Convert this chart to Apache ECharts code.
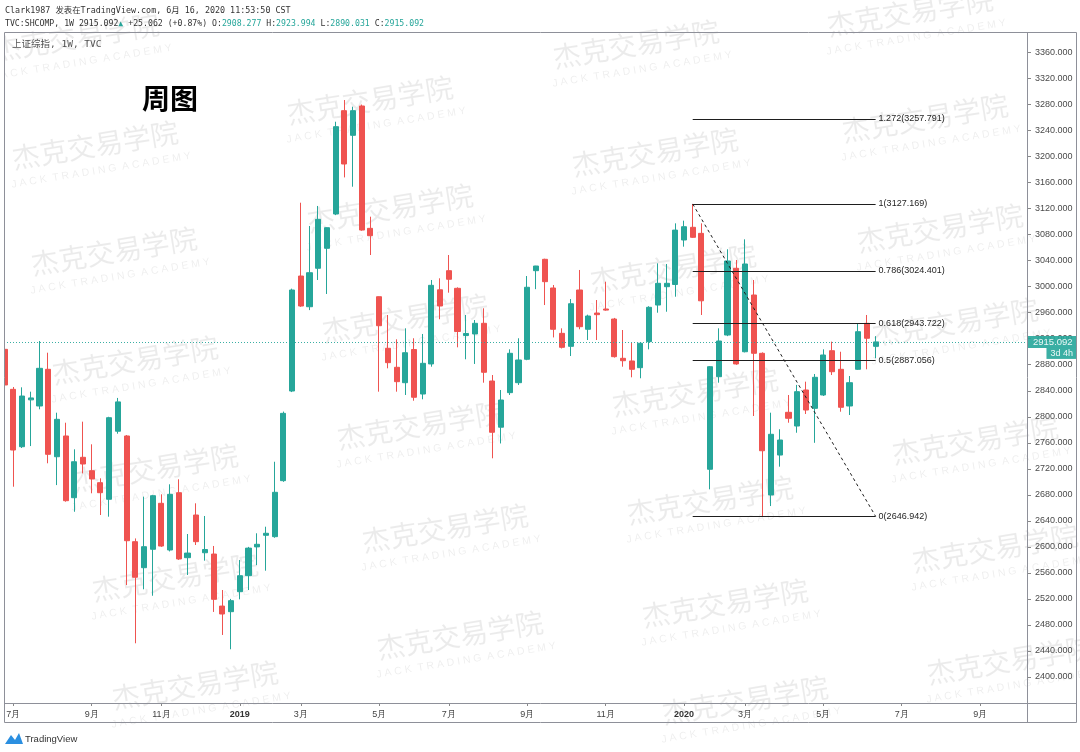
<!DOCTYPE html>
<html><head><meta charset="utf-8">
<script src="https://cdn.jsdelivr.net/npm/echarts@6/dist/echarts.min.js"></script>
<style>html,body{margin:0;padding:0;background:#fff;}#c{width:1080px;height:752px;}</style>
</head><body><div id="c"></div>
<script>
// Weekly candles (SSE Composite), index 0 = week of 2018-06-25 ... index 100 = week of 2020-06-15
const opens = [2903.7,2842.2,2754,2826,2816.6,2873,2738.6,2770.5,2675.6,2737.7,
2717.1,2698.7,2673.2,2777.8,2770.5,2608,2568,2596.3,2667,2595.2,
2683.3,2583.4,2649,2591,2589,2509,2500.4,2531.1,2555.7,2600,
2617.8,2615.7,2701.8,2839.6,3016.4,2969.2,3028.3,3059,3111.7,3270.6,
3232.7,3277.8,3089.7,2984.6,2905.3,2876.1,2852.4,2903.4,2835,2881.2,
2995.2,3024.6,2997.5,2925,2927.3,2943.7,2855,2784,2837.1,2852.4,
2888.4,3024.6,3042.1,2998,2928.3,2908.3,2994.9,2934.5,2959.5,2965.7,
2950.3,2889.9,2885.8,2875.5,2915.5,2971.8,3000,3003.4,3071.8,3091.3,
3082,2719.3,2861.6,2925.7,3028.3,2900,2987.2,2897.6,2679.8,2741.2,
2806.9,2785.8,2841.2,2813,2833.5,2901.6,2873,2816.6,2873,2943.7,
2908.277];
const closes = [2848.9,2748.9,2831.9,2829,2874.5,2742.3,2796.1,2671,2730.9,2727.4,
2704.4,2683.3,2798.6,2822.9,2609.5,2553.3,2600.3,2678.7,2601.3,2680.8,
2581.4,2590.5,2608,2596,2519.4,2496.8,2517.3,2555.7,2598.1,2604,
2620.9,2683.9,2805.3,2994.9,2970.3,3021.5,3103.6,3090.7,3246,3188.6,
3270.6,3087.1,3078.4,2940,2883.2,2854,2898.5,2830,2882.2,3002.1,
2970.3,3011.4,2931.1,2928,2943.7,2868.4,2776.2,2825.8,2897.6,2887.3,
2999.1,3031.8,3007.7,2934.5,2906.8,2973.8,2938.5,2954.9,2957,2964,
2892.4,2886.2,2873,2913,2968.3,3005.2,3005.2,3087,3092.2,3075.9,
2978.3,2877,2916.5,3039.5,2881.2,3034.9,2897.6,2747.8,2773.1,2764.3,
2797.7,2838.6,2810.4,2860.7,2895,2869.3,2814.6,2852.4,2930.8,2920.7,
2915.092];
const lows = [2845,2692.5,2752,2755,2811.5,2728.5,2695,2669.5,2654,2713,
2682.4,2649,2646.4,2774,2541.4,2451.8,2534.8,2524.9,2600,2593,
2580,2556.8,2602.9,2578.8,2500,2464.6,2442.6,2519.4,2533.7,2572,
2563.4,2614,2700,2838,2969,2964,3010.3,2988.8,3110,3168,
3153.7,3086,3048.7,2838.6,2874.5,2838.6,2833.5,2824.7,2826.9,2877,
2949.9,2990.8,2906.8,2888.4,2881.2,2852.4,2736.2,2759,2833.5,2848.9,
2887,2996.2,2971.8,2922,2905,2893.4,2934.5,2918,2918,2963,
2891,2877,2860.7,2859.2,2903.7,2960,2961.5,2984.6,3061.5,3075,
2956.5,2688.5,2852.4,2924,2880,2899,2801.2,2646.942,2662.8,2723.3,
2790.9,2775.5,2804.3,2760,2832,2864.2,2807.8,2802.7,2872,2873,
2890.031];
const highs = [2912,2845.8,2845.3,2838.6,2916.5,2898.5,2806.3,2790.9,2750,2792.5,
2757.7,2705.4,2800,2829,2772,2613,2677.2,2680,2680.8,2696.2,
2703.9,2619.8,2667,2647.5,2601.4,2533.7,2520,2579.8,2600,2620.9,
2631,2730.9,2808,2997,3129.1,3093.3,3124.1,3091,3253.6,3287,
3276.7,3280,3107.6,2985,2956.5,2919.1,2936,2920.7,2927.3,3010.3,
3012.9,3048.7,2999,2956.5,2948.8,2966.8,2864.2,2841.2,2903.7,2920.7,
3016.4,3032,3043,3002.6,2936,2981,3025.7,2957,2979.5,3007.7,
2952,2933.4,2913.9,2915,2970,3035.9,3034.9,3097.4,3101.5,3127.169,
3097.4,2878,2936,3057.5,3041,3072.8,3010.3,2899,2806.3,2780.8,
2833.5,2849,2854,2865.8,2903.7,2915.5,2900,2862.7,2942.6,2956.5,
2923.994];
// x-axis tick labels (week index -> label)
const tickIndex = [1,10,18,27,34,43,51,60,69,78,85,94,103,112];
const tickLabels = ['7月','9月','11月','2019','3月','5月','7月','9月','11月','2020','3月','5月','7月','9月'];
// price-axis ticks
const priceTicks = [2400,2440,2480,2520,2560,2600,2640,2680,2720,2760,2800,2840,2880,2920,2960,3000,3040,3080,3120,3160,3200,3240,3280,3320,3360];
// Fibonacci retracement drawn from week 79 (high) to week 100
const fibLabels = ['1.272','1','0.786','0.618','0.5','0'];
const fibLevels = [3257.791,3127.169,3024.401,2943.722,2887.056,2646.942];
const fibStart = 79, fibEnd = 100;
const fibHigh = 3127.169, fibLow = 2646.942;
const lastPrice = 2915.092;

const UP = '#26a69a', DOWN = '#ef5350';
const ohlc = opens.map((o, i) => [i, o, closes[i], lows[i], highs[i]]);

const markData = [];
fibLevels.forEach((v, k) => {
  markData.push([
    {coord: [fibStart, v], lineStyle: {color: '#1e1e1e', width: 1, type: 'solid'}},
    {coord: [fibEnd, v], label: {show: true, position: 'end', distance: 3,
      formatter: fibLabels[k] + '(' + v.toFixed(3) + ')', color: '#1e1e1e', fontSize: 9,
      fontFamily: 'Liberation Sans, Arial, sans-serif'}}
  ]);
});
markData.push([
  {coord: [fibStart, fibHigh], lineStyle: {color: '#1e1e1e', width: 1, type: [3, 3]}, label: {show: false}},
  {coord: [fibEnd, fibLow], label: {show: false}}
]);
markData.push({
  yAxis: lastPrice,
  lineStyle: {color: UP, width: 1, type: [1, 2], opacity: 0.9},
  label: {
    show: true, position: 'end', distance: 0,
    formatter: '{h|3d 4h}\n{p|' + lastPrice.toFixed(3) + '}\n{t|3d 4h}',
    rich: {
      h: {color: 'transparent', fontSize: 9, padding: [1, 3], align: 'right'},
      p: {color: '#fff', backgroundColor: UP, fontSize: 9.5, padding: [1, 3, 1, 6], width: 41, fontFamily: 'Liberation Sans, Arial, sans-serif'},
      t: {color: '#fff', backgroundColor: UP, fontSize: 9, padding: [1, 4], align: 'right', fontFamily: 'Liberation Sans, Arial, sans-serif'}
    }
  }
});

// Watermark positions (decorative)
const wm = [[76,37],[95,145],[114,251],[135,360],[155,468],[175,577],[195,685],
  [370,100],[390,208],[405,318],[420,425],[445,528],[460,635],
  [636,44],[655,152],[673,268],[695,392],[710,500],[725,603],[745,700],
  [910,12],[925,118],[940,228],[955,322],[975,440],[995,548],[1010,660]];
const wmEls = wm.map(p => ({
  type: 'group', x: p[0], y: p[1], rotation: 0.16, z: 100, silent: true,
  children: [
    {type: 'text', x: 0, y: 0, style: {text: '杰克交易学院', fontSize: 28, fontFamily: 'Noto Sans CJK SC', fill: 'rgba(0,0,0,0.08)', align: 'center', verticalAlign: 'middle'}},
    {type: 'text', x: 2, y: 26, style: {text: 'J A C K  T R A D I N G  A C A D E M Y', fontSize: 10.5, fontFamily: 'Liberation Sans, Arial', fill: 'rgba(0,0,0,0.07)', align: 'center', verticalAlign: 'middle'}}
  ]
}));

const mono = 'DejaVu Sans Mono, Noto Sans CJK SC, monospace';
const chart = echarts.init(document.getElementById('c'));
chart.setOption({
  animation: false,
  backgroundColor: '#fff',
  grid: {left: 4, top: 33, right: 53, bottom: 49},
  xAxis: {
    type: 'value', min: -0.07, max: 117.38,
    splitLine: {show: false},
    axisLine: {show: false, onZero: false},
    axisTick: {show: true, customValues: tickIndex, length: 3, inside: false, lineStyle: {color: '#888'}},
    axisLabel: {
      customValues: tickIndex, margin: 7, fontSize: 9, color: '#444',
      fontFamily: 'Liberation Sans, Arial, sans-serif',
      formatter: v => {
        const s = tickLabels[tickIndex.indexOf(Math.round(v))] || '';
        return /^\d{4}$/.test(s) ? '{b|' + s + '}' : s;
      },
      rich: {b: {fontWeight: 'bold', fontSize: 9, color: '#333', fontFamily: 'Liberation Sans, Arial, sans-serif'}}
    }
  },
  yAxis: {
    type: 'value', position: 'right', min: 2360, max: 3390,
    splitLine: {show: false},
    axisLine: {show: false, onZero: false},
    axisTick: {show: true, customValues: priceTicks, length: 4, lineStyle: {color: '#888'}},
    axisLabel: {customValues: priceTicks, margin: 8, fontSize: 9, color: '#4a4a4a',
      fontFamily: 'Liberation Sans, Arial, sans-serif', formatter: v => v.toFixed(3)}
  },
  series: [{
    type: 'candlestick',
    data: ohlc,
    encode: {x: 0, y: [1, 2, 3, 4]},
    barWidth: 5.6,
    clip: true,
    itemStyle: {color: UP, color0: DOWN, borderColor: UP, borderColor0: DOWN, borderWidth: 1},
    markLine: {silent: true, symbol: ['none', 'none'], animation: false, data: markData}
  }],
  graphic: [
    {type: 'rect', shape: {x: 0, y: 33, width: 4.5, height: 670}, style: {fill: '#fff'}, z: 50, silent: true},
    {type: 'rect', shape: {x: 4.5, y: 32.5, width: 1072, height: 690}, style: {fill: 'none', stroke: '#8e9099', lineWidth: 1}, z: 60, silent: true},
    {type: 'line', shape: {x1: 4.5, y1: 703.5, x2: 1076.5, y2: 703.5}, style: {stroke: '#8e9099', lineWidth: 1}, z: 60, silent: true},
    {type: 'line', shape: {x1: 1027.5, y1: 32.5, x2: 1027.5, y2: 722.5}, style: {stroke: '#8e9099', lineWidth: 1}, z: 60, silent: true},
    {type: 'text', x: 5, y: 11, style: {text: 'Clark1987 发表在TradingView.com, 6月 16, 2020 11:53:50 CST', fontSize: 8.4, fontFamily: mono, fill: '#333', verticalAlign: 'middle'}},
    {type: 'text', x: 5, y: 24, style: {
      text: '{k|TVC:SHCOMP, 1W 2915.092}{g|▲}{k| +25.062 (+0.87%) O:}{v|2908.277}{k| H:}{v|2923.994}{k| L:}{v|2890.031}{k| C:}{v|2915.092}',
      verticalAlign: 'middle',
      rich: {k: {fontSize: 8.2, fontFamily: mono, fill: '#333'}, g: {fontSize: 8.2, fontFamily: mono, fill: UP}, v: {fontSize: 8.2, fontFamily: mono, fill: UP}}
    }},
    {type: 'text', x: 12, y: 45, style: {text: '上证综指, 1W, TVC', fontSize: 9.5, fontFamily: mono, fill: '#555', verticalAlign: 'middle'}},
    {type: 'text', x: 170, y: 98, style: {text: '周图', fontSize: 28, fontWeight: 'bold', fontFamily: 'Noto Sans CJK SC', fill: '#000', align: 'center', verticalAlign: 'middle'}},
    {type: 'polygon', shape: {points: [[5,744],[11,735],[15,740],[19,733],[23,744]]}, style: {fill: '#2b8fe0'}, silent: true},
    {type: 'text', x: 25, y: 739, style: {text: 'TradingView', fontSize: 9.5, fontFamily: 'Liberation Sans Narrow, Liberation Sans, Arial', fill: '#333', verticalAlign: 'middle'}}
  ].concat(wmEls)
});
</script></body></html>
